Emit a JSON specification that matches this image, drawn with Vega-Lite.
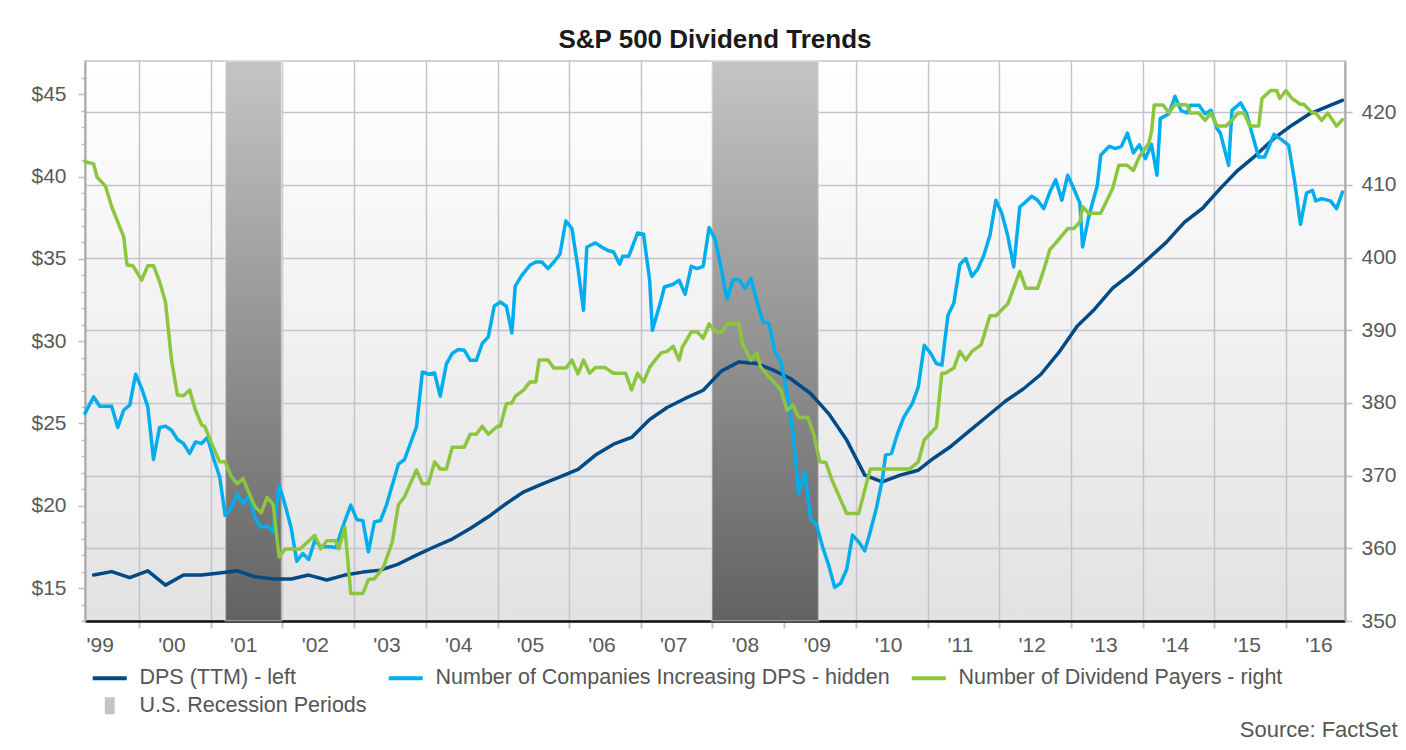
{
"$schema": "https://vega.github.io/schema/vega-lite/v6.json",
"width": 1260, "height": 560,
"autosize": {"type": "none"},
"padding": {"left": 85, "top": 61, "right": 61, "bottom": 129},
"background": "white",
"title": {"text": "S&P 500 Dividend Trends", "font": "Liberation Sans", "fontSize": 26, "fontWeight": "bold", "color": "#1a1a1a", "anchor": "middle", "offset": 7},
"view": {"stroke": "#c5c2cc", "strokeWidth": 1.5, "fill": {"expr": "{gradient: 'linear', x1: 0, y1: 0, x2: 0, y2: 1, stops: [{offset: 0, color: '#ffffff'}, {offset: 1, color: '#e2e2e2'}]}"}},
"config": {"font": "Liberation Sans"},
"datasets": {
"recessions": [{"date":"2001-03-16","end":"2001-12-28"},{"date":"2007-12-29","end":"2009-06-25"}],
"dps": [
{"date":"1999-05-15","dps":15.79},{"date":"1999-08-15","dps":16.00},{"date":"1999-11-15","dps":15.63},{"date":"2000-02-15","dps":16.05},{"date":"2000-05-15","dps":15.18},{"date":"2000-08-15","dps":15.79},{"date":"2000-11-15","dps":15.79},{"date":"2001-02-15","dps":15.92},{"date":"2001-05-15","dps":16.05},{"date":"2001-08-15","dps":15.69},{"date":"2001-11-15","dps":15.55},{"date":"2002-02-15","dps":15.55},{"date":"2002-05-15","dps":15.79},{"date":"2002-08-15","dps":15.49},{"date":"2002-11-15","dps":15.79},{"date":"2003-02-15","dps":15.97},{"date":"2003-05-15","dps":16.09},{"date":"2003-08-15","dps":16.46},{"date":"2003-11-15","dps":17.00},{"date":"2004-02-15","dps":17.51},{"date":"2004-05-15","dps":17.98},{"date":"2004-08-15","dps":18.62},{"date":"2004-11-15","dps":19.33},{"date":"2005-02-15","dps":20.14},{"date":"2005-05-15","dps":20.85},{"date":"2005-08-15","dps":21.31},{"date":"2005-11-15","dps":21.76},{"date":"2006-02-15","dps":22.21},{"date":"2006-05-15","dps":23.08},{"date":"2006-08-15","dps":23.74},{"date":"2006-11-15","dps":24.15},{"date":"2007-02-15","dps":25.24},{"date":"2007-05-15","dps":25.97},{"date":"2007-08-15","dps":26.52},{"date":"2007-11-15","dps":27.02},{"date":"2008-02-15","dps":28.18},{"date":"2008-05-15","dps":28.74},{"date":"2008-08-15","dps":28.64},{"date":"2008-11-01","dps":28.27},{"date":"2009-02-01","dps":27.73},{"date":"2009-05-15","dps":26.82},{"date":"2009-08-15","dps":25.60},{"date":"2009-11-15","dps":23.99},{"date":"2010-02-15","dps":21.86},{"date":"2010-05-15","dps":21.45},{"date":"2010-08-15","dps":21.86},{"date":"2010-11-15","dps":22.16},{"date":"2011-02-01","dps":22.89},{"date":"2011-05-01","dps":23.62},{"date":"2011-08-01","dps":24.53},{"date":"2011-11-01","dps":25.44},{"date":"2012-02-01","dps":26.35},{"date":"2012-05-01","dps":27.08},{"date":"2012-08-01","dps":27.99},{"date":"2012-11-01","dps":29.33},{"date":"2013-02-01","dps":30.91},{"date":"2013-05-01","dps":31.94},{"date":"2013-08-01","dps":33.22},{"date":"2013-11-01","dps":34.07},{"date":"2014-02-01","dps":35.04},{"date":"2014-05-01","dps":36.00},{"date":"2014-08-01","dps":37.22},{"date":"2014-11-01","dps":38.06},{"date":"2015-02-01","dps":39.28},{"date":"2015-05-01","dps":40.38},{"date":"2015-08-01","dps":41.29},{"date":"2015-11-01","dps":42.32},{"date":"2016-02-01","dps":43.12},{"date":"2016-05-01","dps":43.81},{"date":"2016-08-01","dps":44.26},{"date":"2016-10-15","dps":44.63}
],
"companies": [
{"date":"1999-04-01","n":25.61},{"date":"1999-05-15","n":26.62},{"date":"1999-06-15","n":26.05},{"date":"1999-08-15","n":26.05},{"date":"1999-09-15","n":24.76},{"date":"1999-10-15","n":25.81},{"date":"1999-11-15","n":26.11},{"date":"1999-12-15","n":27.99},{"date":"2000-01-15","n":27.12},{"date":"2000-02-15","n":26.01},{"date":"2000-03-15","n":22.81},{"date":"2000-04-15","n":24.76},{"date":"2000-05-15","n":24.84},{"date":"2000-06-15","n":24.59},{"date":"2000-07-15","n":24.03},{"date":"2000-08-15","n":23.78},{"date":"2000-09-15","n":23.18},{"date":"2000-10-15","n":23.88},{"date":"2000-11-15","n":23.78},{"date":"2000-12-15","n":24.15},
{"date":"2001-01-15","n":22.87},{"date":"2001-02-15","n":21.76},{"date":"2001-03-15","n":19.43},{"date":"2001-04-15","n":19.84},{"date":"2001-05-15","n":20.71},{"date":"2001-06-15","n":20.14},{"date":"2001-07-15","n":20.59},{"date":"2001-08-15","n":19.23},{"date":"2001-09-15","n":18.69},{"date":"2001-10-15","n":18.77},{"date":"2001-11-15","n":18.42},{"date":"2001-12-15","n":21.25},
{"date":"2002-01-15","n":20.04},{"date":"2002-02-15","n":18.62},{"date":"2002-03-15","n":16.63},{"date":"2002-04-15","n":17.10},{"date":"2002-05-15","n":16.74},{"date":"2002-06-15","n":17.91},{"date":"2002-07-15","n":17.51},{"date":"2002-09-01","n":17.51},{"date":"2002-10-01","n":17.47},{"date":"2002-11-01","n":18.62},{"date":"2002-12-15","n":20.04},
{"date":"2003-01-15","n":19.17},{"date":"2003-02-15","n":19.09},{"date":"2003-03-15","n":17.20},{"date":"2003-04-15","n":19.03},{"date":"2003-05-15","n":19.09},{"date":"2003-06-15","n":20.04},{"date":"2003-08-15","n":22.53},{"date":"2003-09-15","n":22.81},{"date":"2003-11-15","n":24.79},{"date":"2003-12-15","n":28.13},
{"date":"2004-01-15","n":27.99},{"date":"2004-02-15","n":28.07},{"date":"2004-03-15","n":26.66},{"date":"2004-04-15","n":28.60},{"date":"2004-05-15","n":29.25},{"date":"2004-06-15","n":29.49},{"date":"2004-07-15","n":29.45},{"date":"2004-08-15","n":28.84},{"date":"2004-09-15","n":28.84},{"date":"2004-10-15","n":29.86},{"date":"2004-11-15","n":30.26},{"date":"2004-12-15","n":32.12},
{"date":"2005-01-15","n":32.38},{"date":"2005-02-15","n":32.12},{"date":"2005-03-15","n":30.50},{"date":"2005-04-01","n":33.34},{"date":"2005-05-01","n":33.94},{"date":"2005-06-15","n":34.61},{"date":"2005-07-15","n":34.81},{"date":"2005-08-15","n":34.81},{"date":"2005-09-15","n":34.41},{"date":"2005-10-15","n":34.81},{"date":"2005-11-15","n":35.28},{"date":"2005-12-15","n":37.30},
{"date":"2006-01-15","n":36.84},{"date":"2006-02-15","n":34.41},{"date":"2006-03-15","n":31.88},{"date":"2006-04-01","n":35.72},{"date":"2006-05-15","n":35.97},{"date":"2006-06-15","n":35.72},{"date":"2006-07-15","n":35.52},{"date":"2006-08-15","n":35.42},{"date":"2006-09-15","n":34.67},{"date":"2006-10-01","n":35.16},{"date":"2006-11-01","n":35.16},{"date":"2006-12-15","n":36.57},
{"date":"2007-01-15","n":36.49},{"date":"2007-02-15","n":33.70},{"date":"2007-03-01","n":30.66},{"date":"2007-04-15","n":32.53},{"date":"2007-05-01","n":33.29},{"date":"2007-06-15","n":33.46},{"date":"2007-07-15","n":33.70},{"date":"2007-08-15","n":32.85},{"date":"2007-09-15","n":34.55},{"date":"2007-10-15","n":34.41},{"date":"2007-11-15","n":34.55},{"date":"2007-12-15","n":36.90},
{"date":"2008-01-15","n":36.17},{"date":"2008-02-15","n":34.41},{"date":"2008-03-15","n":32.53},{"date":"2008-04-15","n":33.74},{"date":"2008-05-15","n":33.74},{"date":"2008-06-15","n":33.20},{"date":"2008-07-15","n":33.80},{"date":"2008-08-15","n":32.38},{"date":"2008-09-15","n":31.17},{"date":"2008-10-15","n":31.07},{"date":"2008-11-15","n":29.35},{"date":"2008-12-15","n":28.74},
{"date":"2009-01-15","n":26.82},{"date":"2009-02-15","n":24.39},{"date":"2009-03-15","n":20.75},{"date":"2009-04-15","n":22.06},{"date":"2009-05-15","n":19.23},{"date":"2009-06-15","n":18.83},{"date":"2009-07-15","n":17.51},{"date":"2009-08-15","n":16.40},{"date":"2009-09-15","n":15.04},{"date":"2009-10-15","n":15.29},{"date":"2009-11-15","n":16.14},{"date":"2009-12-15","n":18.22},
{"date":"2010-01-15","n":17.81},{"date":"2010-02-15","n":17.26},{"date":"2010-03-15","n":18.42},{"date":"2010-04-15","n":19.84},{"date":"2010-05-15","n":21.56},{"date":"2010-06-01","n":23.08},{"date":"2010-07-01","n":23.18},{"date":"2010-08-01","n":24.39},{"date":"2010-09-01","n":25.36},{"date":"2010-10-15","n":26.21},{"date":"2010-11-15","n":27.22},{"date":"2010-12-15","n":29.75},
{"date":"2011-01-15","n":29.30},{"date":"2011-02-15","n":28.64},{"date":"2011-03-15","n":28.54},{"date":"2011-04-15","n":31.58},{"date":"2011-05-15","n":32.32},{"date":"2011-06-15","n":34.67},{"date":"2011-07-15","n":35.02},{"date":"2011-08-15","n":33.94},{"date":"2011-09-15","n":34.41},{"date":"2011-10-15","n":35.22},{"date":"2011-11-15","n":36.43},{"date":"2011-12-15","n":38.56},
{"date":"2012-01-15","n":37.75},{"date":"2012-02-15","n":36.33},{"date":"2012-03-15","n":34.51},{"date":"2012-04-15","n":38.15},{"date":"2012-05-15","n":38.46},{"date":"2012-06-15","n":38.80},{"date":"2012-07-15","n":38.56},{"date":"2012-08-15","n":38.05},{"date":"2012-09-15","n":39.06},{"date":"2012-10-15","n":39.81},{"date":"2012-11-15","n":38.56},{"date":"2012-12-15","n":40.08},
{"date":"2013-01-15","n":39.27},{"date":"2013-02-15","n":38.39},{"date":"2013-03-01","n":35.72},{"date":"2013-04-01","n":37.54},{"date":"2013-05-15","n":39.47},{"date":"2013-06-01","n":41.29},{"date":"2013-07-15","n":41.84},{"date":"2013-08-15","n":41.70},{"date":"2013-09-15","n":41.84},{"date":"2013-10-15","n":42.64},{"date":"2013-11-15","n":41.43},{"date":"2013-12-15","n":41.93},
{"date":"2014-01-15","n":41.09},{"date":"2014-02-15","n":41.96},{"date":"2014-03-15","n":40.08},{"date":"2014-04-01","n":43.52},{"date":"2014-05-15","n":43.82},{"date":"2014-06-15","n":44.87},{"date":"2014-07-15","n":44.02},{"date":"2014-08-15","n":43.86},{"date":"2014-09-01","n":44.33},{"date":"2014-10-15","n":44.33},{"date":"2014-11-15","n":43.82},{"date":"2014-12-15","n":44.02},
{"date":"2015-01-15","n":42.91},{"date":"2015-02-01","n":42.64},{"date":"2015-03-15","n":40.68},{"date":"2015-04-01","n":44.02},{"date":"2015-05-15","n":44.47},{"date":"2015-06-15","n":43.82},{"date":"2015-07-15","n":42.50},{"date":"2015-08-15","n":41.19},{"date":"2015-09-15","n":41.19},{"date":"2015-11-01","n":42.56},{"date":"2015-12-15","n":42.20},
{"date":"2016-01-15","n":41.90},{"date":"2016-02-15","n":39.67},{"date":"2016-03-15","n":37.10},{"date":"2016-04-15","n":39.00},{"date":"2016-05-15","n":39.17},{"date":"2016-06-01","n":38.52},{"date":"2016-07-01","n":38.66},{"date":"2016-08-15","n":38.52},{"date":"2016-09-15","n":38.05},{"date":"2016-10-15","n":39.06}
],
"payers": [
{"date":"1999-04-01","p":413.2},{"date":"1999-05-15","p":412.9},{"date":"1999-06-01","p":411.1},{"date":"1999-07-15","p":409.8},{"date":"1999-08-15","p":407.0},{"date":"1999-10-15","p":402.9},{"date":"1999-11-01","p":399.0},{"date":"1999-12-01","p":398.9},
{"date":"2000-01-15","p":396.9},{"date":"2000-02-15","p":398.9},{"date":"2000-03-15","p":398.9},{"date":"2000-04-15","p":396.7},{"date":"2000-05-15","p":393.9},{"date":"2000-06-15","p":385.9},{"date":"2000-07-15","p":381.1},{"date":"2000-08-15","p":381.0},{"date":"2000-09-15","p":381.8},{"date":"2000-10-15","p":379.0},{"date":"2000-11-15","p":377.0},{"date":"2000-12-01","p":376.8},
{"date":"2001-01-15","p":373.8},{"date":"2001-02-15","p":371.9},{"date":"2001-03-15","p":371.9},{"date":"2001-04-15","p":369.9},{"date":"2001-05-15","p":368.9},{"date":"2001-06-15","p":369.6},{"date":"2001-07-15","p":367.6},{"date":"2001-08-15","p":365.7},{"date":"2001-09-15","p":364.9},{"date":"2001-10-15","p":367.0},{"date":"2001-11-15","p":366.0},{"date":"2001-12-15","p":358.8},
{"date":"2002-01-15","p":359.9},{"date":"2002-04-01","p":359.9},{"date":"2002-06-15","p":361.8},{"date":"2002-07-15","p":359.9},{"date":"2002-08-15","p":361.05},{"date":"2002-10-01","p":361.05},{"date":"2002-10-15","p":359.9},{"date":"2002-11-15","p":362.9},{"date":"2002-12-15","p":353.8},
{"date":"2003-02-15","p":353.8},{"date":"2003-03-15","p":355.7},{"date":"2003-04-15","p":355.8},{"date":"2003-06-01","p":357.5},{"date":"2003-07-15","p":360.9},{"date":"2003-08-15","p":366.0},{"date":"2003-09-15","p":367.1},{"date":"2003-11-15","p":370.8},{"date":"2003-12-15","p":368.9},
{"date":"2004-01-15","p":368.9},{"date":"2004-02-15","p":371.9},{"date":"2004-03-15","p":370.9},{"date":"2004-04-15","p":370.9},{"date":"2004-05-15","p":373.9},{"date":"2004-07-15","p":373.9},{"date":"2004-08-15","p":375.7},{"date":"2004-09-15","p":375.7},{"date":"2004-10-15","p":376.8},{"date":"2004-11-15","p":375.7},
{"date":"2005-01-01","p":376.8},{"date":"2005-01-15","p":376.8},{"date":"2005-02-15","p":379.9},{"date":"2005-03-15","p":380.0},{"date":"2005-04-01","p":380.9},{"date":"2005-05-15","p":381.8},{"date":"2005-06-15","p":382.9},{"date":"2005-07-15","p":382.9},{"date":"2005-08-01","p":385.9},{"date":"2005-09-15","p":385.9},{"date":"2005-10-15","p":384.8},{"date":"2005-12-15","p":384.8},
{"date":"2006-01-15","p":385.9},{"date":"2006-02-15","p":384.0},{"date":"2006-03-15","p":385.9},{"date":"2006-04-15","p":384.1},{"date":"2006-05-15","p":384.9},{"date":"2006-07-01","p":384.9},{"date":"2006-08-15","p":384.1},{"date":"2006-10-15","p":384.1},{"date":"2006-11-15","p":381.8},{"date":"2006-12-15","p":384.1},
{"date":"2007-01-15","p":382.9},{"date":"2007-02-15","p":384.9},{"date":"2007-03-15","p":385.9},{"date":"2007-04-15","p":386.9},{"date":"2007-05-15","p":387.1},{"date":"2007-06-15","p":387.8},{"date":"2007-07-15","p":385.9},{"date":"2007-08-01","p":387.7},{"date":"2007-09-15","p":389.8},{"date":"2007-10-15","p":389.8},{"date":"2007-11-15","p":388.9},{"date":"2007-12-15","p":390.9},
{"date":"2008-01-15","p":389.8},{"date":"2008-02-15","p":389.7},{"date":"2008-03-15","p":390.9},{"date":"2008-05-15","p":390.9},{"date":"2008-06-01","p":388.2},{"date":"2008-07-15","p":385.9},{"date":"2008-08-15","p":386.9},{"date":"2008-09-01","p":385.0},{"date":"2008-10-15","p":383.6},{"date":"2008-12-15","p":381.8},
{"date":"2009-01-15","p":379.0},{"date":"2009-02-15","p":379.7},{"date":"2009-03-15","p":378.0},{"date":"2009-05-01","p":378.0},{"date":"2009-06-01","p":375.6},{"date":"2009-07-01","p":371.9},{"date":"2009-08-01","p":371.8},{"date":"2009-09-01","p":369.4},{"date":"2009-10-15","p":366.7},{"date":"2009-11-15","p":364.8},
{"date":"2010-01-15","p":364.8},{"date":"2010-03-15","p":370.9},{"date":"2010-10-01","p":370.9},{"date":"2010-11-15","p":371.9},{"date":"2010-12-15","p":374.9},
{"date":"2011-02-15","p":376.7},{"date":"2011-03-15","p":384.1},{"date":"2011-04-01","p":384.1},{"date":"2011-05-15","p":384.8},{"date":"2011-06-15","p":387.1},{"date":"2011-07-15","p":385.9},{"date":"2011-08-15","p":387.1},{"date":"2011-10-01","p":388.0},{"date":"2011-11-15","p":392.0},{"date":"2011-12-15","p":392.0},
{"date":"2012-02-15","p":393.7},{"date":"2012-04-15","p":398.1},{"date":"2012-05-15","p":395.8},{"date":"2012-07-15","p":395.8},{"date":"2012-08-15","p":398.3},{"date":"2012-09-15","p":401.1},{"date":"2012-10-15","p":402.0},{"date":"2012-12-15","p":404.0},
{"date":"2013-01-15","p":404.0},{"date":"2013-02-15","p":404.9},{"date":"2013-03-01","p":407.0},{"date":"2013-04-01","p":406.1},{"date":"2013-06-01","p":406.1},{"date":"2013-08-01","p":409.5},{"date":"2013-09-01","p":412.7},{"date":"2013-10-15","p":412.7},{"date":"2013-11-15","p":412.0},{"date":"2013-12-15","p":413.9},
{"date":"2014-02-01","p":415.7},{"date":"2014-02-15","p":417.3},{"date":"2014-03-01","p":421.0},{"date":"2014-04-15","p":421.0},{"date":"2014-05-15","p":419.9},{"date":"2014-06-15","p":421.1},{"date":"2014-08-15","p":421.0},{"date":"2014-09-01","p":419.9},{"date":"2014-10-15","p":419.9},{"date":"2014-11-15","p":418.9},{"date":"2014-12-15","p":419.9},
{"date":"2015-01-15","p":418.1},{"date":"2015-03-01","p":418.1},{"date":"2015-04-01","p":418.9},{"date":"2015-05-01","p":419.9},{"date":"2015-06-01","p":419.9},{"date":"2015-07-01","p":418.1},{"date":"2015-08-15","p":418.1},{"date":"2015-09-01","p":421.9},{"date":"2015-10-15","p":423.0},{"date":"2015-11-15","p":423.0},{"date":"2015-12-01","p":421.9},
{"date":"2016-01-01","p":423.0},{"date":"2016-02-01","p":421.9},{"date":"2016-03-15","p":421.1},{"date":"2016-04-01","p":421.1},{"date":"2016-05-15","p":419.9},{"date":"2016-06-01","p":419.9},{"date":"2016-07-01","p":418.9},{"date":"2016-08-01","p":419.9},{"date":"2016-09-15","p":418.1},{"date":"2016-10-15","p":419.0}
]
},
"encoding": {
"x": {"field": "date", "type": "temporal",
 "scale": {"type": "utc", "domain": [{"year":1999,"month":4,"date":1,"utc":true},{"year":2016,"month":10,"date":28,"utc":true}]},
 "axis": {
  "title": "Source: FactSet", "titleFont": "Liberation Sans", "titleFontSize": 22, "titleColor": "#555555", "titleFontWeight": "normal", "titleAnchor": "end", "titleAlign": "right", "titleBaseline": "middle", "titleX": 1312, "titleY": 108,
  "values": [
   {"year":1999,"month":6,"date":15,"utc":true},
   {"year":2000,"month":1,"date":1,"utc":true},{"year":2000,"month":6,"date":15,"utc":true},
   {"year":2001,"month":1,"date":1,"utc":true},{"year":2001,"month":6,"date":15,"utc":true},
   {"year":2002,"month":1,"date":1,"utc":true},{"year":2002,"month":6,"date":15,"utc":true},
   {"year":2003,"month":1,"date":1,"utc":true},{"year":2003,"month":6,"date":15,"utc":true},
   {"year":2004,"month":1,"date":1,"utc":true},{"year":2004,"month":6,"date":15,"utc":true},
   {"year":2005,"month":1,"date":1,"utc":true},{"year":2005,"month":6,"date":15,"utc":true},
   {"year":2006,"month":1,"date":1,"utc":true},{"year":2006,"month":6,"date":15,"utc":true},
   {"year":2007,"month":1,"date":1,"utc":true},{"year":2007,"month":6,"date":15,"utc":true},
   {"year":2008,"month":1,"date":1,"utc":true},{"year":2008,"month":6,"date":15,"utc":true},
   {"year":2009,"month":1,"date":1,"utc":true},{"year":2009,"month":6,"date":15,"utc":true},
   {"year":2010,"month":1,"date":1,"utc":true},{"year":2010,"month":6,"date":15,"utc":true},
   {"year":2011,"month":1,"date":1,"utc":true},{"year":2011,"month":6,"date":15,"utc":true},
   {"year":2012,"month":1,"date":1,"utc":true},{"year":2012,"month":6,"date":15,"utc":true},
   {"year":2013,"month":1,"date":1,"utc":true},{"year":2013,"month":6,"date":15,"utc":true},
   {"year":2014,"month":1,"date":1,"utc":true},{"year":2014,"month":6,"date":15,"utc":true},
   {"year":2015,"month":1,"date":1,"utc":true},{"year":2015,"month":6,"date":15,"utc":true},
   {"year":2016,"month":1,"date":1,"utc":true},{"year":2016,"month":6,"date":15,"utc":true}
  ],
  "grid": true, "gridColor": "#c5c2cc", "gridWidth": 1.5,
  "gridOpacity": {"condition": {"test": "utcmonth(datum.value) === 0", "value": 1}, "value": 0},
  "ticks": true, "tickSize": 7, "tickColor": "#c5c2cc", "tickWidth": 2,
  "tickOpacity": {"condition": {"test": "utcmonth(datum.value) === 0", "value": 1}, "value": 0},
  "domainColor": "#111111", "domainWidth": 2.5,
  "labelExpr": "utcmonth(datum.value) === 5 ? \"'\" + utcFormat(datum.value, '%y') : ''",
  "labelFont": "Liberation Sans", "labelFontSize": 21, "labelColor": "#595959", "labelPadding": 6,
  "labelOverlap": false, "labelFlush": false, "labelBound": false
 }
}
},
"layer": [
{
 "data": {"name": "recessions"},
 "mark": {"type": "rect", "fill": {"gradient": "linear", "x1": 0, "y1": 0, "x2": 0, "y2": 1, "stops": [{"offset": 0, "color": "#c4c4c4"}, {"offset": 1, "color": "#626262"}]}, "stroke": "#ffffff", "strokeOpacity": 0.3, "strokeWidth": 2},
 "encoding": {"x2": {"field": "end"}}
},
{
 "data": {"name": "dps"},
 "mark": {"type": "line", "strokeWidth": 3.5, "strokeJoin": "round", "strokeCap": "round"},
 "encoding": {
  "y": {"field": "dps", "type": "quantitative", "scale": {"domain": [13, 47.02], "nice": false, "zero": false},
   "axis": {"orient": "left", "title": null, "grid": false,
    "values": [13,14,15,16,17,18,19,20,21,22,23,24,25,26,27,28,29,30,31,32,33,34,35,36,37,38,39,40,41,42,43,44,45,46],
    "labelExpr": "datum.value % 5 === 0 ? '$' + datum.value : ''",
    "tickSize": {"condition": {"test": "datum.value % 5 === 0", "value": 7}, "value": 4},
    "tickColor": "#bdbdbd", "tickWidth": 1.5, "domainColor": "#a8a8a8", "domainWidth": 2,
    "labelFont": "Liberation Sans", "labelFontSize": 21, "labelColor": "#595959", "labelPadding": 12, "labelOverlap": false, "labelFlush": false}},
  "color": {"datum": "DPS (TTM) - left", "type": "nominal",
   "scale": {"domain": ["DPS (TTM) - left", "Number of Companies Increasing DPS - hidden", "Number of Dividend Payers - right", "U.S. Recession Periods"], "range": ["#004a86", "#00adee", "#8cc63e", "#c4c4c4"]},
   "legend": {"orient": "none", "legendX": 14, "legendY": 606, "direction": "horizontal", "columns": 3, "title": null,
    "symbolType": "stroke", "symbolSize": 1156, "symbolStrokeWidth": 4,
    "labelFont": "Liberation Sans", "labelFontSize": 21.5, "labelColor": "#555555", "labelOffset": 19, "labelLimit": 700,
    "columnPadding": 13, "rowPadding": 5, "padding": 0,
    "encode": {"symbols": {"update": {
     "shape": {"signal": "datum.value === 'U.S. Recession Periods' ? 'M-0.29,-0.5H0.29V0.5H-0.29Z' : 'stroke'"},
     "fill": {"signal": "datum.value === 'U.S. Recession Periods' ? '#c4c4c4' : 'transparent'"},
     "strokeWidth": {"signal": "datum.value === 'U.S. Recession Periods' ? 0 : 4"}
    }}}
   }}
 }
},
{
 "data": {"name": "companies"},
 "mark": {"type": "line", "strokeWidth": 3.5, "strokeJoin": "round", "strokeCap": "round"},
 "encoding": {
  "y": {"field": "n", "type": "quantitative", "scale": {"domain": [13, 47.02], "nice": false, "zero": false}, "axis": null},
  "color": {"datum": "Number of Companies Increasing DPS - hidden", "type": "nominal"}
 }
},
{
 "data": {"name": "payers"},
 "mark": {"type": "line", "strokeWidth": 3.5, "strokeJoin": "round", "strokeCap": "round"},
 "encoding": {
  "y": {"field": "p", "type": "quantitative", "scale": {"domain": [350, 427.06], "nice": false, "zero": false},
   "axis": {"orient": "right", "title": null, "values": [350,360,370,380,390,400,410,420], "format": "d",
    "grid": true, "gridColor": "#c5c2cc", "gridWidth": 1.5,
    "tickSize": 7, "tickColor": "#bdbdbd", "tickWidth": 1.5, "domainColor": "#a8a8a8", "domainWidth": 2,
    "labelFont": "Liberation Sans", "labelFontSize": 21, "labelColor": "#595959", "labelPadding": 9}},
  "color": {"datum": "Number of Dividend Payers - right", "type": "nominal"}
 }
}
],
"resolve": {"scale": {"y": "independent"}}
}
